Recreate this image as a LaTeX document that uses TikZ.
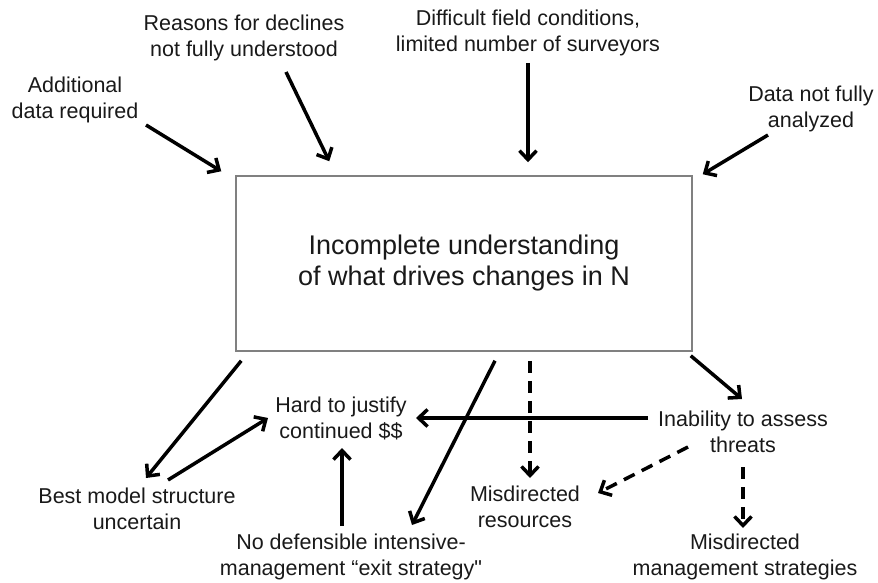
\documentclass[tikz,border=0pt]{standalone}
\usepackage{fontspec}
\setmainfont{Liberation Sans}[Ligatures=TeXOff]
\usetikzlibrary{arrows.meta,calc}
\begin{document}
\begin{tikzpicture}[x=1pt,y=-1pt,
  lbl/.style={align=center,inner sep=0pt,text=black!90,font=\fontsize{21.5}{26}\selectfont},
  mainbox/.style={draw=black!50,line width=1.5pt,minimum width=456pt,minimum height=175pt,align=center,inner sep=0pt,text=black!90,font=\fontsize{27}{31}\selectfont},
  arr/.style={line width=3.5pt,-{Straight Barb[length=9pt,width=17pt,line width=3.5pt]}},
  darr/.style={arr,dash pattern=on 12pt off 8pt}]
\useasboundingbox (0,0) rectangle (878,583);
\node[mainbox] (box) at (464,263.5) {Incomplete understanding\\of what drives changes in N};
\node[lbl] (add) at (75,100) {Additional\\data required};
\node[lbl] (rea) at (244,38) {Reasons for declines\\not fully understood};
\node[lbl] (dif) at (528,33) {Difficult field conditions,\\limited number of surveyors};
\node[lbl] (dat) at (811,109) {Data not fully\\analyzed};
\node[lbl] (best) at (137,509) {Best model structure\\uncertain};
\node[lbl] (hard) at (341,418) {Hard to justify\\continued \$\$};
\node[lbl] (nod) at (351,557) {No defensible intensive-\\management “exit strategy"};
\node[lbl] (mis) at (525,507) {Misdirected\\resources};
\node[lbl] (ina) at (743,432) {Inability to assess\\threats};
\node[lbl] (mm) at (745,557) {Misdirected\\management strategies};
\draw[arr] ($(add)+(71,25)$) -- ($(box.north west)+(-14,-4)$);
\draw[arr] ($(rea)+(42,34)$) -- ($(box.north west)+(94,-14)$);
\draw[arr] ($(dif)+(0,30)$) -- ($(box.north)+(64,-13)$);
\draw[arr] ($(dat)+(-43,26)$) -- ($(box.north east)+(10,-1)$);
\draw[arr] ($(box.south west)+(6,9)$) -- ($(best)+(9,-31)$);
\draw[arr] ($(best)+(31,-29)$) -- ($(hard)+(-73,0)$);
\draw[arr] ($(nod)+(-9,-31)$) -- ($(hard)+(1,30)$);
\draw[arr] ($(box.south)+(31,9)$) -- ($(nod)+(61,-32)$);
\draw[darr] ($(box.south)+(66,9)$) -- ($(mis)+(5,-29)$);
\draw[arr] ($(box.south east)+(-2,4)$) -- ($(ina)+(-1,-33)$);
\draw[arr] ($(ina)+(-95,-14)$) -- ($(hard)+(75,0)$);
\draw[darr] ($(ina)+(-55,15)$) -- ($(mis)+(73,-14)$);
\draw[darr] ($(ina)+(0,35)$) -- ($(mm)+(-2,-29)$);
\end{tikzpicture}
\end{document}
